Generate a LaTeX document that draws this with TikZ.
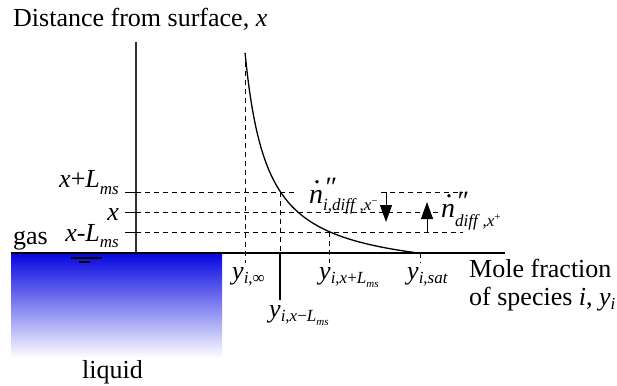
\documentclass[tikz,border=0pt]{standalone}
\usepackage{fontspec}
\setmainfont{Liberation Serif}
\usetikzlibrary{arrows.meta}
\definecolor{water}{RGB}{5,5,225}
\definecolor{axisgray}{RGB}{50,50,50}
\newcommand\subsz{\fontsize{17}{17}\selectfont}
\newcommand\ssubsz{\fontsize{11}{11}\selectfont}
\newcommand\lo[2]{\raisebox{#1}{\subsz #2}}
\newcommand\ndot{\ooalign{\textit{n}\cr\hidewidth\kern0.06em\raisebox{0.68em}{.}\hidewidth\cr}}
\newcommand\dprime{\rlap{\raisebox{0.22em}{\kern0.02em\textit{\char"2033}}}}
\begin{document}
\begin{tikzpicture}[x=1pt,y=-1pt,
  font=\fontsize{26}{30}\selectfont,
  lbl/.style={inner sep=0pt, anchor=base west},
  rlbl/.style={inner sep=0pt, anchor=base east},
  nlbl/.style={inner sep=0pt, anchor=base west, font=\fontsize{28}{30}\selectfont},
  dline/.style={dash pattern=on 5pt off 4pt, line width=0.8pt},
  axisline/.style={line width=1.5pt},
  tipline/.style={line width=1pt, -{Triangle[length=17pt,width=12pt]}}]
\useasboundingbox (0,0) rectangle (617,385);

% liquid
\shade[top color=water, bottom color=white] (11,253) rectangle (222,358);

% named coordinates
\coordinate (O) at (136,253);
\coordinate (ytop) at (136,42);
\coordinate (xend) at (505,253);
\coordinate (wl) at (11,253);
\coordinate (hA) at (136,192);
\coordinate (hB) at (136,212.7);
\coordinate (hC) at (136,232);

% axes
\draw[axisline, draw=axisgray] (O) -- (ytop);
\draw[axisline] (wl) -- (xend);

% water symbol
\coordinate (w1a) at (71,258); \coordinate (w1b) at (102,258);
\coordinate (w2a) at (79,262); \coordinate (w2b) at (90,262);
\draw[line width=1.2pt] (w1a) -- (w1b);
\draw[line width=1.2pt] (w2a) -- (w2b);

% ticks on vertical axis
\foreach \c in {hA,hB,hC} \draw[line width=1pt] (\c) -- ++(-11,0);

% dashed horizontal lines
\coordinate (hAgap1) at (297,192);
\coordinate (hAgap2) at (381,192);
\coordinate (hAend) at (463,192);
\coordinate (hBend) at (440,212.7);
\coordinate (hCend) at (463,232);
\draw[dline] (hA) -- (hAgap1);
\draw[dline] (hAgap2) -- (hAend);
\draw[dline] (hB) -- (hBend);
\draw[dline] (hC) -- (hCend);

% dashed vertical lines
\coordinate (v1t) at (245,53);  \coordinate (v1b) at (245,263);
\coordinate (v2t) at (280,192); \coordinate (v2m) at (280,253); \coordinate (v2b) at (280,300);
\coordinate (v3t) at (329.5,232); \coordinate (v3b) at (329.5,263);
\coordinate (v4t) at (420,253); \coordinate (v4b) at (420,263);
\draw[dline] (v1t) -- (v1b);
\draw[dline] (v2t) -- (v2m);
\draw[line width=1.2pt] (v2m) -- (v2b);
\draw[dline] (v3t) -- (v3b);
\draw[dline] (v4t) -- (v4b);

% curve
\draw[line width=1.3pt] plot[domain=0:200, samples=120, smooth] ({223+4977/(\x+25.5)}, {253-\x});

% flux arrows
\coordinate (a1s) at (386,192); \coordinate (a1e) at (386,222);
\coordinate (a2s) at (427,232); \coordinate (a2e) at (427,202);
\draw[tipline] (a1s) -- (a1e);
\draw[tipline] (a2s) -- (a2e);

% texts
\node[lbl] (title) at (13,27) {Distance from surface, \textit{x}};
\node[lbl] (gas) at (13,244) {gas};
\node[lbl] (liquid) at (82,378) {liquid};
\node[rlbl] (lxp) at (119,187) {\textit{x}+\textit{L}\lo{-7pt}{\textit{ms}}};
\node[rlbl] (lx) at (119,220) {\textit{x}};
\node[rlbl] (lxm) at (119,241) {\textit{x}-\textit{L}\lo{-6pt}{\textit{ms}}};

\node[lbl] (yinf) at (232,279) {\textit{y}\lo{-4pt}{\textit{i},∞}};
\node[lbl] (yxm) at (269,317) {\textit{y}\lo{-4pt}{\textit{i},\textit{x}−\textit{L}\raisebox{-4pt}{\ssubsz\textit{ms}}}};
\node[lbl] (yxp) at (319,279) {\textit{y}\lo{-4pt}{\textit{i},\textit{x}+\textit{L}\raisebox{-4pt}{\ssubsz\textit{ms}}}};
\node[lbl] (ysat) at (407,279) {\textit{y}\lo{-4pt}{\textit{i},\textit{sat}}};

\node[lbl] (mole1) at (469,277) {Mole fraction};
\node[lbl] (mole2) at (469,305) {of species \textit{i}, \textit{y}\lo{-4pt}{\textit{i}}};

\node[nlbl] (nm) at (309,203) {\ndot\dprime\lo{-7pt}{\textit{i},\textit{diff}\,,\textit{x}\raisebox{6pt}{\ssubsz −}}};
\node[nlbl] (np) at (441,217) {\ndot\dprime\lo{-9pt}{\textit{diff}\,,\textit{x}\raisebox{6pt}{\ssubsz +}}};
\end{tikzpicture}
\end{document}
